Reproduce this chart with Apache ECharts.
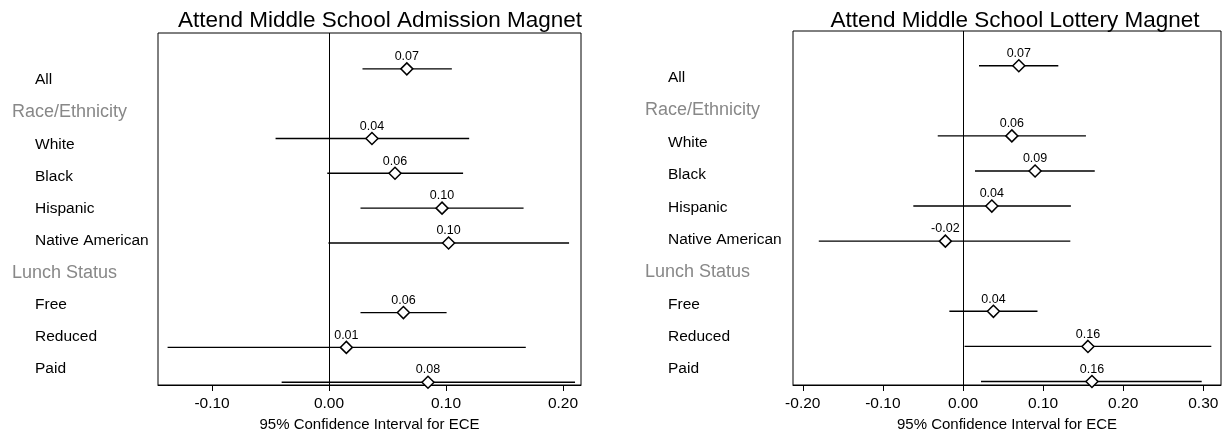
<!DOCTYPE html>
<html>
<head>
<meta charset="utf-8">
<script src="https://cdn.jsdelivr.net/npm/echarts@6/dist/echarts.min.js"></script>
<style>
html,body{margin:0;padding:0;background:#fff;}
#chart{width:1225px;height:430px;}
</style>
</head>
<body>
<div id="chart"></div>
<script>
const categories = ['All', 'Race/Ethnicity', 'White', 'Black', 'Hispanic', 'Native American', 'Lunch Status', 'Free', 'Reduced', 'Paid'];
const headers = ['Race/Ethnicity', 'Lunch Status'];
const titles = ['Attend Middle School Admission Magnet', 'Attend Middle School Lottery Magnet'];
const axisTitle = '95% Confidence Interval for ECE';

const admissionEst  = [0.0665, 0.0367, 0.0564, 0.0966, 0.1022, 0.0636, 0.0148, 0.0846];
const admissionLow  = [0.0286, -0.0457, -0.0015, 0.0269, -0.0005, 0.0269, -0.1380, -0.0405];
const admissionHigh = [0.1050, 0.1198, 0.1146, 0.1663, 0.2052, 0.1005, 0.1682, 0.2103];

const lotteryEst  = [0.0697, 0.0610, 0.0900, 0.0360, -0.0220, 0.0380, 0.1560, 0.1610];
const lotteryLow  = [0.0200, -0.0315, 0.0150, -0.0620, -0.1800, -0.0170, 0.0020, 0.0225];
const lotteryHigh = [0.1190, 0.1535, 0.1645, 0.1347, 0.1340, 0.0930, 0.3100, 0.2980];

const ticksAdmission = [-0.10, 0.00, 0.10, 0.20];
const ticksLottery = [-0.20, -0.10, 0.00, 0.10, 0.20, 0.30];

const FONT = '"Liberation Sans", Arial, Helvetica, sans-serif';

// rows holding estimates (non-header categories)
const rowIdx = categories.map((c, i) => headers.includes(c) ? -1 : i).filter(i => i >= 0);

function ciData(lo, hi) { return rowIdx.map((r, k) => [r, lo[k], hi[k]]); }
function ptData(est) { return rowIdx.map((r, k) => [est[k], r]); }

const panels = [
  { grid: {left: 158, top: 33, width: 423, height: 352}, labelGrid: {left: 0, top: 64, width: 12, height: 321},
    xmin: -0.1462, xmax: 0.2154, ymin: -1.03, ymax: 9.08, ticks: ticksAdmission,
    est: admissionEst, lo: admissionLow, hi: admissionHigh, title: titles[0], titleX: 375 },
  { grid: {left: 793, top: 31, width: 428, height: 354}, labelGrid: {left: 633, top: 62, width: 12, height: 323},
    xmin: -0.2122, xmax: 0.3221, ymin: -0.99, ymax: 9.10, ticks: ticksLottery,
    est: lotteryEst, lo: lotteryLow, hi: lotteryHigh, title: titles[1], titleX: 1010 }
];

const option = {
  backgroundColor: '#fff',
  animation: false,
  textStyle: { fontFamily: FONT },
  title: [], grid: [], xAxis: [], yAxis: [], series: []
};

panels.forEach((p, k) => {
  const g = option.grid.length;
  option.title.push({
    text: p.title, left: p.titleX, top: 4, textAlign: 'center',
    textStyle: { fontFamily: FONT, fontSize: 22.5, fontWeight: 'normal', color: '#000' }
  });
  option.grid.push(Object.assign({ show: true, borderColor: '#000', borderWidth: 1, backgroundColor: 'transparent',
    containLabel: false, outerBoundsMode: 'none' }, p.grid));
  option.grid.push(Object.assign({ show: false, containLabel: false, outerBoundsMode: 'none' }, p.labelGrid));

  option.xAxis.push({
    type: 'value', gridIndex: g, min: p.xmin, max: p.xmax,
    name: axisTitle, nameLocation: 'middle', nameGap: 26,
    nameTextStyle: { fontFamily: FONT, fontSize: 15, color: '#000' },
    axisLine: { show: true, onZero: false, lineStyle: { color: '#000', width: 1 } },
    axisTick: { show: true, length: 6, lineStyle: { color: '#000' }, customValues: p.ticks },
    axisLabel: { fontFamily: FONT, fontSize: 15.5, color: '#000', margin: 11,
      customValues: p.ticks, formatter: v => v.toFixed(2) },
    splitLine: { show: false }
  });
  option.yAxis.push({
    type: 'value', gridIndex: g, inverse: true, min: p.ymin, max: p.ymax,
    show: false, splitLine: { show: false }
  });
  // label axis
  option.xAxis.push({ type: 'value', gridIndex: g + 1, show: false });
  option.yAxis.push({
    type: 'category', gridIndex: g + 1, data: categories, inverse: true, position: 'right',
    axisLine: { show: false }, axisTick: { show: false }, splitLine: { show: false },
    axisLabel: {
      margin: 0, align: 'left',
      formatter: v => headers.includes(v) ? '{h|' + v + '}' : '{i|' + v + '}',
      rich: {
        h: { fontFamily: FONT, fontSize: 18, color: '#888' },
        i: { fontFamily: FONT, fontSize: 15.5, color: '#000', padding: [0, 0, 0, 23] }
      }
    }
  });

  const xi = option.xAxis.length - 2, yi = option.yAxis.length - 2;
  option.series.push({
    type: 'custom', xAxisIndex: xi, yAxisIndex: yi, z: 2,
    data: ciData(p.lo, p.hi),
    encode: { x: [1, 2], y: 0 },
    renderItem: (params, api) => {
      const r = api.value(0);
      const a = api.coord([api.value(1), r]);
      const b = api.coord([api.value(2), r]);
      return { type: 'line', shape: { x1: a[0], y1: a[1], x2: b[0], y2: b[1] },
        style: { stroke: '#000', lineWidth: 1.4 } };
    },
    markLine: {
      silent: true, symbol: ['none', 'none'], label: { show: false },
      lineStyle: { color: '#000', width: 1, type: 'solid' },
      data: [{ xAxis: 0 }]
    }
  });
  option.series.push({
    type: 'scatter', xAxisIndex: xi, yAxisIndex: yi, z: 5,
    data: ptData(p.est),
    symbol: 'diamond', symbolSize: 12,
    itemStyle: { color: '#fff', borderColor: '#000', borderWidth: 1.5, opacity: 1 },
    label: { show: true, position: 'top', distance: -1, fontFamily: FONT, fontSize: 12.5, color: '#000',
      formatter: q => q.value[0].toFixed(2) },
    emphasis: { disabled: true }
  });
});

const chart = echarts.init(document.getElementById('chart'), null, { renderer: 'canvas' });
chart.setOption(option);
</script>
</body>
</html>
